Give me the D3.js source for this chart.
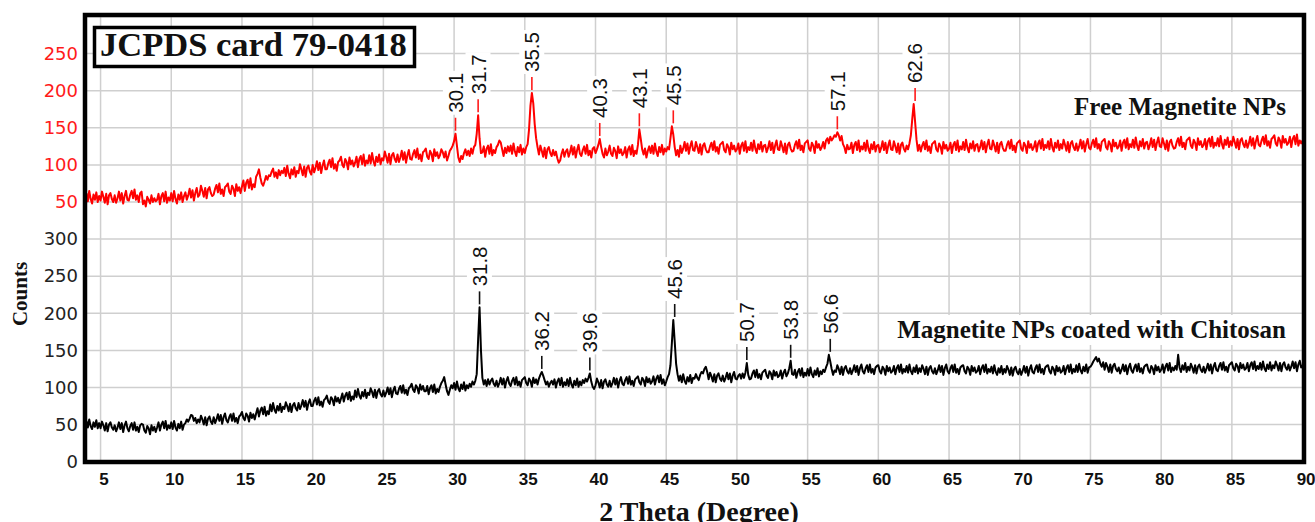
<!DOCTYPE html>
<html><head><meta charset="utf-8">
<script src="https://cdn.jsdelivr.net/npm/d3@7/dist/d3.min.js"></script>
<style>html,body{margin:0;padding:0;background:#fff;}svg{display:block;}</style>
</head><body>
<script>
// ---- DATA ----
const xStart = 4.0, xStep = 0.1; // 2-theta sampling of both patterns
const freeCounts = [
62,51,65,54,48,60,53,63,50,58,
52,64,57,49,61,47,59,62,54,50,
59,49,55,64,52,62,48,58,65,53,
52,60,65,55,67,53,59,50,62,64,
47,52,44,57,53,48,59,50,55,51,
53,61,47,58,62,51,64,49,56,52,
62,51,65,54,48,60,53,63,50,58,
63,53,59,68,56,66,52,62,69,57,
60,72,65,57,69,55,67,70,62,58,
60,68,73,63,75,61,67,58,70,72,
75,64,61,72,68,58,74,65,70,62,
71,79,65,76,80,69,82,67,74,70,
84,88,94,83,75,72,78,85,80,86,
85,91,95,84,90,82,93,86,92,89,
96,85,99,88,82,94,87,97,84,92,
89,101,94,86,98,84,96,99,91,87,
100,90,96,105,93,103,89,99,106,94,
94,102,107,97,109,95,101,92,104,106,
111,100,97,108,104,94,110,101,106,98,
103,111,97,108,112,101,114,99,106,102,
113,102,116,105,99,111,104,114,101,109,
106,118,111,103,115,101,113,116,108,104,
114,104,110,119,107,117,103,113,120,108,
107,115,120,110,122,108,114,105,117,119,
122,111,108,119,115,105,121,112,117,109,
113,121,117,110,118,106,112,119,122,126,
132,142,126,110,104,112,108,116,121,113,
119,112,122,115,124,127,142,167,136,116,
117,125,111,122,126,115,128,113,120,116,
124,127,133,130,121,112,123,116,125,118,
126,115,129,118,112,124,117,127,114,122,
116,124,128,148,180,197,183,155,136,124,
114,126,119,111,123,109,121,124,116,112,
120,113,118,109,103,106,115,121,111,118,
121,111,117,126,114,124,110,120,127,115,
112,120,125,115,127,113,119,110,122,124,
116,121,127,135,124,115,110,122,113,118,
126,115,112,123,119,109,125,116,121,113,
116,124,110,121,125,114,127,112,119,115,
127,148,135,121,114,122,110,119,125,116,
126,115,129,118,112,124,117,127,114,122,
118,124,121,136,152,141,124,113,120,111,
126,116,122,131,119,129,115,125,132,120,
119,131,124,116,128,114,126,129,121,117,
117,125,130,120,132,118,124,115,127,129,
131,120,117,128,124,114,130,121,126,118,
121,129,115,126,130,119,132,117,124,120,
130,119,133,122,116,128,121,131,118,126,
127,117,123,132,120,130,116,126,133,121,
120,132,125,117,129,115,127,130,122,118,
119,127,132,122,134,120,126,117,129,131,
133,122,119,130,126,116,132,123,128,120,
124,131,122,133,136,129,138,133,136,140,
138,144,140,133,139,128,124,116,127,121,
122,130,116,127,131,120,133,118,125,121,
130,119,133,122,116,128,121,131,118,126,
127,117,123,132,120,130,116,126,133,121,
120,132,125,117,129,115,127,130,122,118,
126,121,129,140,162,182,158,134,119,127,
118,126,131,121,133,119,125,116,128,130,
132,121,118,129,125,115,131,122,127,119,
122,130,116,127,131,120,133,118,125,121,
131,120,134,123,117,129,122,132,119,127,
128,118,124,133,121,131,117,127,134,122,
121,133,126,118,130,116,128,131,123,119,
119,127,132,122,134,120,126,117,129,131,
133,122,119,130,126,116,132,123,128,120,
124,132,118,129,133,122,135,120,127,123,
132,121,135,124,118,130,123,133,120,128,
122,134,127,119,131,117,129,132,124,120,
129,119,125,134,122,132,118,128,135,123,
121,129,134,124,136,122,128,119,131,133,
135,124,121,132,128,118,134,125,130,122,
125,133,119,130,134,123,136,121,128,124,
134,123,137,126,120,132,125,135,122,130,
131,121,127,136,124,134,120,130,137,125,
124,136,129,121,133,119,131,134,126,122,
123,131,136,126,138,124,130,121,133,135,
137,126,123,134,130,120,136,127,132,124,
127,135,121,132,136,125,138,123,130,126,
136,125,139,128,122,134,127,137,124,132,
126,138,131,123,135,121,133,136,128,124,
133,123,129,138,126,136,122,132,139,127,
125,133,138,128,140,126,132,123,135,137,
140,129,126,137,133,123,139,130,135,127,
130,138,124,135,139,128,141,126,133,129,
133];
const coatedCounts = [
55,46,57,48,44,53,47,56,45,52,
45,54,49,42,52,41,50,53,46,43,
49,41,46,53,44,52,40,49,54,45,
41,48,52,43,53,42,47,40,49,51,
50,42,39,48,45,37,49,42,47,40,
46,53,42,50,54,45,55,43,49,45,
53,44,55,46,42,51,45,54,43,50,
52,57,54,58,63,62,55,59,52,57,
53,62,57,50,60,49,58,61,54,51,
60,52,57,64,55,63,51,60,65,56,
53,60,64,55,65,54,59,52,61,63,
67,59,56,65,62,54,66,59,64,57,
65,72,61,69,73,64,74,62,68,64,
77,68,79,70,66,75,69,78,67,74,
71,80,75,68,78,67,76,79,72,69,
79,71,76,83,74,82,70,79,84,75,
75,82,86,77,87,76,81,74,83,85,
89,81,78,87,84,76,88,81,86,79,
85,92,81,89,93,84,94,82,88,84,
96,87,98,89,85,94,88,97,86,93,
90,99,94,87,97,86,95,98,91,88,
96,88,93,100,91,99,87,96,101,92,
91,98,102,93,103,92,97,90,99,101,
105,97,94,103,100,92,104,97,102,95,
95,102,91,99,103,94,104,92,98,94,
101,106,109,114,104,95,90,97,103,99,
106,97,108,99,95,104,98,107,96,103,
99,105,101,108,104,109,118,165,208,150,
113,104,110,102,111,104,109,112,105,102,
109,101,106,113,104,112,100,109,114,105,
102,109,113,104,114,103,108,101,110,112,
114,106,103,112,109,101,113,106,111,104,
112,117,121,116,110,104,108,101,106,109,
104,111,100,108,112,103,113,101,107,103,
111,102,113,104,100,109,103,112,101,108,
103,110,106,112,108,113,119,108,101,98,
103,112,107,100,110,99,108,111,104,101,
109,101,106,113,104,112,100,109,114,105,
103,110,114,105,115,104,109,102,111,113,
115,107,104,113,110,102,114,107,112,105,
108,115,104,112,116,107,117,105,111,103,
108,114,118,130,160,191,162,132,118,109,
116,107,118,109,105,114,108,117,106,113,
112,118,113,110,117,121,119,125,128,121,
111,120,115,108,118,107,116,119,112,109,
116,108,113,120,111,119,107,116,121,112,
111,116,118,112,119,113,120,133,117,111,
112,119,123,114,124,113,118,111,120,122,
124,116,113,122,119,111,123,116,121,114,
116,123,112,120,124,115,119,126,136,118,
117,124,113,121,125,116,126,114,120,116,
125,116,127,118,114,123,117,126,115,122,
118,124,121,127,132,144,135,125,117,123,
121,130,125,118,128,117,126,129,122,119,
126,118,123,130,121,129,117,126,131,122,
119,126,130,121,131,120,125,118,127,129,
130,122,119,128,125,117,129,122,127,120,
122,129,118,126,130,121,131,119,125,121,
129,120,131,122,118,127,121,130,119,126,
121,130,125,118,128,117,126,129,122,119,
126,118,123,130,121,129,117,126,131,122,
119,126,130,121,131,120,125,118,127,129,
130,122,119,128,125,117,129,122,127,120,
122,129,118,126,130,121,131,119,125,121,
128,119,130,121,117,126,120,129,118,125,
120,129,124,117,127,116,125,128,121,118,
125,117,122,129,120,128,116,125,130,121,
119,126,130,121,131,120,125,118,127,129,
130,122,119,128,125,117,129,122,127,120,
122,129,118,126,130,121,131,119,125,121,
130,121,132,123,119,128,122,131,120,127,
128,131,135,138,141,135,139,132,128,134,
124,133,128,121,131,120,129,132,125,122,
127,119,124,131,122,130,118,127,132,123,
120,127,131,122,132,121,126,119,128,130,
131,123,120,129,126,118,130,123,128,121,
124,131,120,128,132,123,133,121,127,123,
129,124,144,127,121,130,124,133,121,128,
123,132,127,120,130,119,128,131,124,121,
128,120,125,132,123,131,119,128,133,124,
122,129,133,124,134,123,128,121,130,132,
134,126,123,132,129,121,133,126,131,124,
126,133,122,130,134,125,135,123,129,125,
133,124,135,126,122,131,125,134,123,130,
126,135,130,123,133,122,131,134,127,124,
131,123,128,135,126,134,122,131,136,127,
130];
const freePeakPos = [30.1, 31.7, 35.5, 40.3, 43.1, 45.5, 57.1, 62.6];
const freePeakTop = [142, 167, 197, 135, 148, 152, 144, 182];
const coatedPeakPos = [31.8, 36.2, 39.6, 45.6, 50.7, 53.8, 56.6];
const coatedPeakTop = [208, 121, 119, 191, 133, 136, 144];
const xTicks = [5,10,15,20,25,30,35,40,45,50,55,60,65,70,75,80,85,90];
const coatedTicks = [0,50,100,150,200,250,300];
const freeTicks = [50,100,150,200,250];
const freeOffset = 300; // the free pattern is stacked 300 counts above
const titleText = "JCPDS card 79-0418";
const freeName = "Free Magnetite NPs";
const coatedName = "Magnetite NPs coated with Chitosan";
const xTitle = "2 Theta (Degree)";
const yTitle = "Counts";

// ---- CHART ----
const W = 1315, H = 522;
const L = 85, R = 1304, T = 15, B = 462;
const svg = d3.select("body").append("svg").attr("width", W).attr("height", H);
const x = d3.scaleLinear().domain([3.9, 90.1]).range([L, R]);
const y = d3.scaleLinear().domain([0, 603]).range([461.7, 14.3]);
const yFree = d3.scaleLinear().domain([-freeOffset, 603 - freeOffset]).range([461.7, 14.3]);

const serif = "'Liberation Serif','Times New Roman',serif";
const sans = "'Liberation Sans',Arial,sans-serif";

// grid
const grid = svg.append("g").attr("stroke", "#cfcfcf").attr("stroke-width", 1.5);
grid.selectAll("line.v").data(xTicks).join("line")
  .attr("x1", d => x(d)).attr("x2", d => x(d)).attr("y1", T).attr("y2", B);
grid.selectAll("line.h").data(d3.range(50, 601, 50)).join("line")
  .attr("x1", L).attr("x2", R).attr("y1", d => y(d)).attr("y2", d => y(d));

svg.append("clipPath").attr("id", "clip").append("rect")
  .attr("x", L).attr("y", T).attr("width", R - L).attr("height", B - T);

function boxedText(g, txt, xRight, yBase, size, padX, padTop, padBot) {
  const t = g.append("text").attr("x", xRight).attr("y", yBase)
    .attr("text-anchor", "end").attr("font-family", serif).attr("font-weight", "bold")
    .attr("font-size", size).attr("fill", "#111").text(txt);
  const bb = t.node().getBBox();
  g.insert("rect", "text").attr("x", bb.x - padX).attr("y", bb.y - padTop)
    .attr("width", bb.width + 2 * padX).attr("height", bb.height + padTop + padBot).attr("fill", "#fff");
}
const legG = svg.append("g");
boxedText(legG.append("g"), freeName, 1286, 115, 25, 5, 1, 0);
boxedText(legG.append("g"), coatedName, 1286, 338, 25, 8, 1, 2);

function peakLabels(pos, top, scale, tickColor) {
  const g = svg.append("g");
  pos.forEach((p, i) => {
    const px = x(p), py = scale(top[i]);
    g.append("line").attr("x1", px).attr("x2", px).attr("y1", py - 3).attr("y2", py - 16)
      .attr("stroke", tickColor).attr("stroke-width", 1.6);
    const lg = g.append("g").attr("transform", `translate(${px},${py - 21}) rotate(-90)`);
    const t = lg.append("text").attr("x", 0).attr("y", 0).attr("dy", "0.36em")
      .attr("font-family", sans).attr("font-size", 20.5).attr("fill", "#111").text(p.toFixed(1));
    const bb = t.node().getBBox();
    lg.insert("rect", "text").attr("x", bb.x - 2).attr("y", bb.y - 1)
      .attr("width", bb.width + 4).attr("height", bb.height + 2).attr("fill", "#fff");
  });
}
peakLabels(freePeakPos, freePeakTop, yFree, "#ff1a1a");
peakLabels(coatedPeakPos, coatedPeakTop, y, "#111");

const lineFree = d3.line().x((d, i) => x(xStart + i * xStep)).y(d => yFree(d));
const lineCoated = d3.line().x((d, i) => x(xStart + i * xStep)).y(d => y(d));
const lines = svg.append("g").attr("clip-path", "url(#clip)");
lines.append("path").datum(freeCounts).attr("d", lineFree)
  .attr("fill", "none").attr("stroke", "#ff0000").attr("stroke-width", 2).attr("stroke-linejoin", "round");
lines.append("path").datum(coatedCounts).attr("d", lineCoated)
  .attr("fill", "none").attr("stroke", "#000").attr("stroke-width", 2).attr("stroke-linejoin", "round");

// title box
const tb = svg.append("g");
tb.append("rect").attr("x", 94.5).attr("y", 27.5).attr("width", 320).attr("height", 39)
  .attr("fill", "#fff").attr("stroke", "#000").attr("stroke-width", 3.5);
tb.append("text").attr("x", 100).attr("y", 56).attr("font-family", serif).attr("font-weight", "bold")
  .attr("font-size", 34.5).attr("fill", "#111").text(titleText);

// frame
svg.append("rect").attr("x", L).attr("y", T).attr("width", R - L).attr("height", B - T)
  .attr("fill", "none").attr("stroke", "#000").attr("stroke-width", 4.5);

// x axis labels
const xAxis = d3.axisBottom(x).tickValues(xTicks).tickSize(0).tickPadding(0).tickFormat(d3.format("d"));
const xg = svg.append("g").attr("transform", `translate(3,${B})`).call(xAxis);
xg.select(".domain").remove();
xg.selectAll("text").attr("font-family", sans).attr("font-weight", "bold").attr("font-size", 17)
  .attr("fill", "#111").attr("dy", "1.35em");

// y axes labels
const yAxis = d3.axisLeft(y).tickValues(coatedTicks).tickSize(0).tickPadding(7);
const yg = svg.append("g").attr("transform", `translate(${L},0)`).call(yAxis);
yg.select(".domain").remove();
yg.selectAll("text").attr("font-family", "'DejaVu Sans',Verdana,sans-serif").attr("font-size", 18).attr("fill", "#222");
const yAxisF = d3.axisLeft(yFree).tickValues(freeTicks).tickSize(0).tickPadding(7);
const ygf = svg.append("g").attr("transform", `translate(${L},0)`).call(yAxisF);
ygf.select(".domain").remove();
ygf.selectAll("text").attr("font-family", "'DejaVu Sans',Verdana,sans-serif").attr("font-size", 18).attr("fill", "#ff1a1a");

// axis titles
svg.append("text").attr("x", 699).attr("y", 521).attr("text-anchor", "middle")
  .attr("font-family", serif).attr("font-weight", "bold").attr("font-size", 28).attr("fill", "#111").text(xTitle);
svg.append("text").attr("transform", "translate(26.5,294) rotate(-90)").attr("text-anchor", "middle")
  .attr("font-family", serif).attr("font-weight", "bold").attr("font-size", 21).attr("fill", "#111").text(yTitle);
</script>
</body></html>
